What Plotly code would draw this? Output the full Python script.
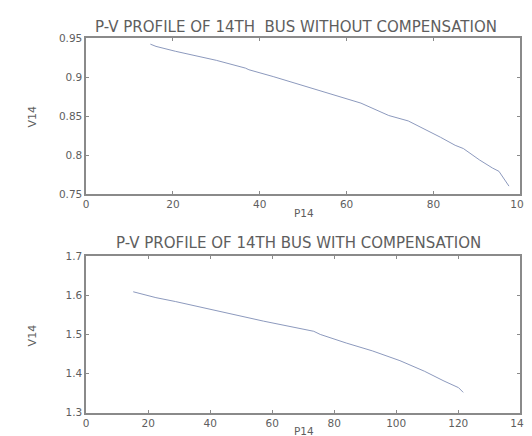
import plotly.graph_objects as go

# Top: without compensation
p_without = [14.8, 16.1, 20.6, 30.0, 36.7, 37.5, 43.1, 50.9, 55.8, 63.3, 69.7, 74.2,
             81.6, 85.0, 86.9, 90.6, 93.6, 95.1, 97.4]
v_without = [0.9425, 0.9396, 0.9333, 0.9217, 0.9117, 0.9096, 0.9008, 0.8875, 0.880,
             0.8667, 0.8508, 0.8438, 0.8229, 0.8125, 0.8083, 0.7937, 0.7833, 0.779, 0.760]

# Bottom: with compensation
p_with = [15.2, 22.5, 28.8, 40.4, 51.4, 57.2, 73.4, 75.5, 83.9, 92.3, 101.2, 109.1,
          115.4, 120.1, 121.6]
v_with = [1.609, 1.594, 1.584, 1.563, 1.545, 1.534, 1.508, 1.500, 1.478, 1.458,
          1.433, 1.406, 1.381, 1.364, 1.352]

top_xticks = [0, 20, 40, 60, 80, 100]
top_yticks = [0.75, 0.8, 0.85, 0.9, 0.95]
top_yticktext = ["0.75", "0.8", "0.85", "0.9", "0.95"]
bot_xticks = [0, 20, 40, 60, 80, 100, 120, 140]
bot_yticks = [1.3, 1.4, 1.5, 1.6, 1.7]
bot_yticktext = ["1.3", "1.4", "1.5", "1.6", "1.7"]

title_top = "P-V PROFILE OF 14TH  BUS WITHOUT COMPENSATION"
title_bot = "P-V PROFILE OF 14TH BUS WITH COMPENSATION"

W, H = 532, 436
x0, x1 = 77 / W, 522 / W
top_dom = [(H - 185) / H, (H - 25) / H]
bot_dom = [(H - 410) / H, (H - 249) / H]

line_color = "#7f8db5"
axis_color = "#8a8a8a"
text_color = "#5e5e5e"
FONT = "DejaVu Sans, Verdana, sans-serif"

fig = go.Figure()
fig.add_trace(go.Scatter(x=p_without, y=v_without, mode="lines",
                         line=dict(color=line_color, width=0.9), xaxis="x", yaxis="y",
                         showlegend=False))
fig.add_trace(go.Scatter(x=p_with, y=v_with, mode="lines",
                         line=dict(color=line_color, width=0.9), xaxis="x2", yaxis="y2",
                         showlegend=False))

ax_common = dict(showline=True, linecolor=axis_color, linewidth=1.5, mirror="allticks",
                 ticks="inside", ticklen=3, tickcolor=axis_color, showgrid=False,
                 zeroline=False, tickfont=dict(size=10.5, color=text_color, family=FONT))

fig.update_layout(
    width=W, height=H, margin=dict(l=0, r=0, t=0, b=0),
    paper_bgcolor="white", plot_bgcolor="white",
    xaxis=dict(domain=[x0, x1], anchor="y", range=[0, 100], tickvals=top_xticks,
               ticklabeloverflow="allow", **ax_common),
    yaxis=dict(domain=top_dom, anchor="x", range=[0.75, 0.95], tickvals=top_yticks,
               ticktext=top_yticktext, **ax_common),
    xaxis2=dict(domain=[x0, x1], anchor="y2", range=[0, 140], tickvals=bot_xticks,
                ticklabeloverflow="allow", **ax_common),
    yaxis2=dict(domain=bot_dom, anchor="x2", range=[1.3, 1.7], tickvals=bot_yticks,
                ticktext=bot_yticktext, **ax_common),
)

def ann(text, x, y, size, angle=0):
    fig.add_annotation(text=text, x=x / W, y=1 - y / H, xref="paper", yref="paper",
                       showarrow=False, textangle=angle, xanchor="center", yanchor="middle",
                       font=dict(size=size, color=text_color, family=FONT))

ann(title_top, 292, 13, 15)
ann(title_bot, 295, 235, 15)
ann("P14", 300, 205, 10.5)
ann("P14", 300, 429, 10.5)
ann("V14", 22, 105, 11, -90)
ann("V14", 22, 330, 11, -90)

fig.write_html("out.html")
